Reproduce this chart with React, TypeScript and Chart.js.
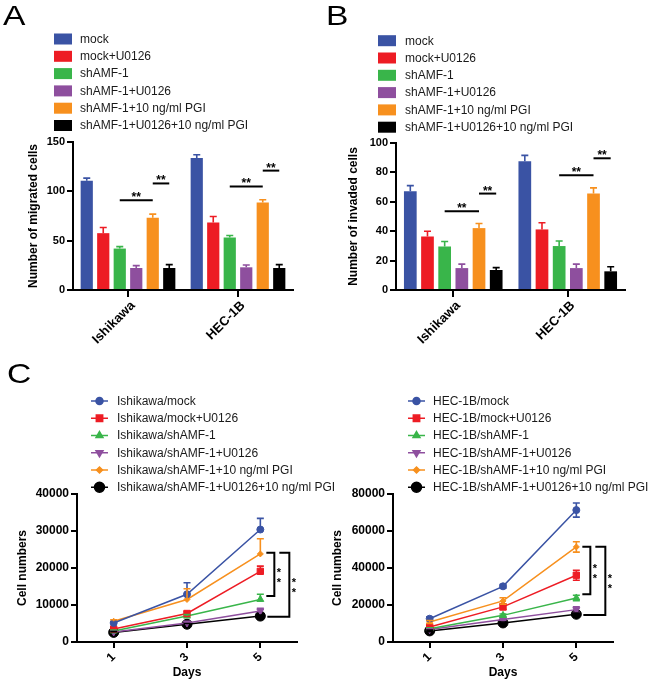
import React, { useEffect, useRef } from 'react';
import { Chart, registerables } from 'chart.js';
import { drawPoint } from 'chart.js/helpers';

Chart.register(...registerables);

const FONT = '"Liberation Sans", Arial, Helvetica, sans-serif';

// ---------- Panels A & B (bar charts) ----------
const cellLines = ['Ishikawa', 'HEC-1B'];
const groupNames = ['mock', 'mock+U0126', 'shAMF-1', 'shAMF-1+U0126', 'shAMF-1+10 ng/ml PGI', 'shAMF-1+U0126+10 ng/ml PGI'];
const groupColors = ['#3A53A4', '#ED1C24', '#39B54A', '#8E4F9E', '#F7901E', '#000000'];

const migratedMean = [[110.7, 133.8], [57.6, 68.4], [42.0, 53.2], [22.3, 23.0], [73.1, 88.7], [22.3, 22.3]];
const migratedErr = [[2.7, 3.3], [5.7, 6.1], [2.0, 2.0], [2.4, 2.4], [3.8, 2.7], [3.4, 3.4]];
const migratedSig = [
  { cat: 0, from: 2, to: 4, value: 91 },
  { cat: 0, from: 4, to: 5, value: 108 },
  { cat: 1, from: 2, to: 4, value: 105 },
  { cat: 1, from: 4, to: 5, value: 121 },
];

const invadedMean = [[67.2, 87.6], [36.4, 41.2], [29.6, 29.9], [14.9, 14.9], [42.1, 65.6], [13.6, 12.7]];
const invadedErr = [[3.8, 4.0], [3.6, 4.5], [3.4, 3.4], [2.7, 2.7], [3.1, 3.9], [1.6, 3.1]];
const invadedSig = [
  { cat: 0, from: 2, to: 4, value: 53.6 },
  { cat: 0, from: 4, to: 5, value: 65.6 },
  { cat: 1, from: 2, to: 4, value: 78 },
  { cat: 1, from: 4, to: 5, value: 89.6 },
];

// ---------- Panel C (growth curves) ----------
const days = [1, 3, 5];
const ishikawaNames = groupNames.map((n) => 'Ishikawa/' + n);
const hecNames = groupNames.map((n) => 'HEC-1B/' + n);
const pointStyles = ['circle', 'rect', 'triangle', 'triangle', 'rectRot', 'circle'];
const pointRadii = [3.5, 4.5, 4, 4, 3, 5];
const pointRotations = [0, 0, 0, 180, 0, 0];

const ishikawaMean = [
  [5150, 12900, 30400],
  [3500, 7700, 19100],
  [3000, 7000, 11500],
  [2700, 5150, 8400],
  [5600, 11500, 23800],
  [2600, 4800, 7000],
];
const ishikawaErr = [
  [300, 3100, 3000],
  [300, 500, 1400],
  [200, 400, 1400],
  [200, 300, 700],
  [400, 2900, 4100],
  [200, 200, 300],
];
const ishikawaBrackets = [
  { top: 24100, bottom: 12400 },
  { top: 24100, bottom: 6850 },
];

const hecMean = [
  [12600, 30100, 71300],
  [8100, 19000, 36100],
  [7200, 14400, 23800],
  [6700, 12100, 17500],
  [10800, 22200, 51400],
  [6000, 10300, 15000],
];
const hecErr = [
  [1000, 1000, 3800],
  [700, 1500, 2700],
  [500, 700, 1500],
  [400, 500, 1500],
  [800, 1700, 2800],
  [400, 500, 600],
];
const hecBrackets = [
  { top: 51500, bottom: 25800 },
  { top: 51500, bottom: 14600 },
];

// ---------- plugins ----------
function columnLegend(id: string, g: any) {
  return {
    id,
    afterDraw(chart: any) {
      const ctx = chart.ctx;
      ctx.save();
      ctx.font = `12px ${FONT}`;
      ctx.textBaseline = 'middle';
      ctx.textAlign = 'left';
      chart.data.datasets.forEach((ds: any, i: number) => {
        const cy = g.y + i * g.rowH;
        if (g.kind === 'box') {
          ctx.fillStyle = ds.backgroundColor;
          ctx.fillRect(g.x, cy - 5.5, 18, 11);
        } else {
          ctx.strokeStyle = ds.borderColor;
          ctx.lineWidth = 1.5;
          ctx.beginPath();
          ctx.moveTo(g.x, cy);
          ctx.lineTo(g.x + 17, cy);
          ctx.stroke();
          ctx.fillStyle = ds.backgroundColor;
          drawPoint(ctx, { pointStyle: ds.pointStyle, radius: ds.pointRadius, rotation: ds.pointRotation, borderWidth: 1 }, g.x + 8.5, cy);
        }
        ctx.fillStyle = '#1a1a1a';
        ctx.fillText(ds.label, g.textX, cy + 0.5);
      });
      ctx.restore();
    },
  };
}

function errorBars(id: string, errs: number[][], both: boolean, cap: number) {
  return {
    id,
    afterDatasetsDraw(chart: any) {
      const ctx = chart.ctx;
      const ys = chart.scales.y;
      ctx.save();
      chart.data.datasets.forEach((ds: any, i: number) => {
        const meta = chart.getDatasetMeta(i);
        ctx.strokeStyle = ds.borderColor || ds.backgroundColor;
        ctx.lineWidth = 1.6;
        meta.data.forEach((el: any, j: number) => {
          const raw = ds.data[j];
          const v = typeof raw === 'number' ? raw : raw.y;
          const e = errs[i][j];
          const yTop = ys.getPixelForValue(v + e);
          const yBot = both ? ys.getPixelForValue(v - e) : el.y;
          ctx.beginPath();
          ctx.moveTo(el.x, yBot);
          ctx.lineTo(el.x, yTop);
          ctx.moveTo(el.x - cap, yTop);
          ctx.lineTo(el.x + cap, yTop);
          if (both) {
            ctx.moveTo(el.x - cap, yBot);
            ctx.lineTo(el.x + cap, yBot);
          }
          ctx.stroke();
        });
      });
      ctx.restore();
    },
  };
}

function barSignificance(id: string, sig: any[]) {
  return {
    id,
    afterDatasetsDraw(chart: any) {
      const ctx = chart.ctx;
      const ys = chart.scales.y;
      ctx.save();
      ctx.strokeStyle = '#000';
      ctx.fillStyle = '#000';
      ctx.lineWidth = 2;
      ctx.font = `bold 12px ${FONT}`;
      ctx.textAlign = 'center';
      ctx.textBaseline = 'alphabetic';
      sig.forEach((s) => {
        const x1 = chart.getDatasetMeta(s.from).data[s.cat].x;
        const x2 = chart.getDatasetMeta(s.to).data[s.cat].x;
        const y = ys.getPixelForValue(s.value);
        ctx.beginPath();
        ctx.moveTo(x1, y);
        ctx.lineTo(x2, y);
        ctx.stroke();
        ctx.fillText('**', (x1 + x2) / 2, y + 1);
      });
      ctx.restore();
    },
  };
}

function lineBrackets(id: string, br: any[], lastDay: number) {
  return {
    id,
    afterDatasetsDraw(chart: any) {
      const ctx = chart.ctx;
      const ys = chart.scales.y;
      const xs = chart.scales.x;
      const x0 = xs.getPixelForValue(lastDay);
      const geo = [
        { topL: 6, botL: 6, v: 14 },
        { topL: 19, botL: 7, v: 29 },
      ];
      ctx.save();
      ctx.strokeStyle = '#000';
      ctx.fillStyle = '#000';
      ctx.lineWidth = 2;
      ctx.font = `bold 11px ${FONT}`;
      ctx.textAlign = 'center';
      ctx.textBaseline = 'alphabetic';
      br.forEach((b, k) => {
        const gg = geo[k];
        const yt = ys.getPixelForValue(b.top);
        const yb = ys.getPixelForValue(b.bottom);
        const xv = x0 + gg.v;
        ctx.beginPath();
        ctx.moveTo(x0 + gg.topL, yt);
        ctx.lineTo(xv, yt);
        ctx.lineTo(xv, yb);
        ctx.lineTo(x0 + gg.botL, yb);
        ctx.stroke();
        const ym = (yt + yb) / 2;
        ctx.fillText('*', xv + 4.5, ym - 5 + 6.3);
        ctx.fillText('*', xv + 4.5, ym + 5 + 6.3);
      });
      ctx.restore();
    },
  };
}

const plainNumber = (v: any) => String(v);
const tickFont = { family: FONT, size: 11, weight: 'bold' as const };
const titleFont = { family: FONT, size: 12, weight: 'bold' as const };

function barConfig(means: number[][], errs: number[][], yMax: number, yStep: number, yTitle: string, sig: any[], g: any) {
  return {
    type: 'bar',
    data: {
      labels: cellLines,
      datasets: groupNames.map((name, i) => ({
        label: name,
        data: means[i],
        backgroundColor: groupColors[i],
        borderColor: groupColors[i],
        borderWidth: 0,
        barPercentage: 0.74,
        categoryPercentage: 0.9,
      })),
    },
    options: {
      responsive: false,
      animation: false,
      devicePixelRatio: 1,
      layout: { padding: { left: 0, top: g.top, right: g.right, bottom: 0 } },
      plugins: { legend: { display: false }, tooltip: { enabled: false } },
      scales: {
        x: {
          grid: { offset: false, drawOnChartArea: false, color: '#000', lineWidth: 2, tickLength: 7 },
          border: { color: '#000', width: 2 },
          ticks: { color: '#000', font: { ...tickFont, size: 13 }, minRotation: 45, maxRotation: 45, padding: 1, labelOffset: 5 },
          afterFit: (s: any) => { s.height = g.xH; },
        },
        y: {
          min: 0,
          max: yMax,
          grid: { drawOnChartArea: false, color: '#000', lineWidth: 2, tickLength: 6 },
          border: { color: '#000', width: 2 },
          ticks: { stepSize: yStep, color: '#000', font: tickFont, padding: 2, callback: plainNumber },
          title: { display: true, text: yTitle, color: '#000', font: titleFont, padding: { top: g.titlePad, bottom: 0 } },
          afterFit: (s: any) => { s.width = g.yW; },
        },
      },
    },
    plugins: [
      columnLegend('colLegend', { kind: 'box', x: g.legX, y: g.legY, rowH: 17.3, textX: g.legTextX }),
      errorBars('errBars', errs, false, 3.5),
      barSignificance('sigBars', sig),
    ],
  };
}

function lineConfig(names: string[], means: number[][], errs: number[][], yMax: number, yStep: number, brackets: any[], both: boolean, g: any) {
  return {
    type: 'line',
    data: {
      datasets: names.map((name, i) => ({
        label: name,
        data: days.map((d, j) => ({ x: d, y: means[i][j] })),
        borderColor: groupColors[i],
        backgroundColor: groupColors[i],
        borderWidth: 1.5,
        pointStyle: pointStyles[i],
        pointRadius: pointRadii[i],
        pointRotation: pointRotations[i],
        pointBorderWidth: 1,
        tension: 0,
      })),
    },
    options: {
      responsive: false,
      animation: false,
      devicePixelRatio: 1,
      layout: { padding: { left: 0, top: g.top, right: g.right, bottom: 0 } },
      plugins: { legend: { display: false }, tooltip: { enabled: false } },
      scales: {
        x: {
          type: 'linear',
          min: 0,
          max: 6,
          afterBuildTicks: (s: any) => { s.ticks = days.map((v) => ({ value: v })); },
          grid: { drawOnChartArea: false, color: '#000', lineWidth: 2, tickLength: 6 },
          border: { color: '#000', width: 2 },
          ticks: { color: '#000', font: { ...tickFont, size: 12 }, minRotation: 45, maxRotation: 45, padding: 2, autoSkip: false, callback: plainNumber },
          title: { display: true, text: 'Days', color: '#000', font: titleFont, padding: { top: 0, bottom: 7 } },
          afterFit: (s: any) => { s.height = g.xH; },
        },
        y: {
          min: 0,
          max: yMax,
          grid: { drawOnChartArea: false, color: '#000', lineWidth: 2, tickLength: 6 },
          border: { color: '#000', width: 2 },
          ticks: { stepSize: yStep, color: '#000', font: { ...tickFont, size: 12 }, padding: 2, callback: plainNumber },
          title: { display: true, text: 'Cell numbers', color: '#000', font: titleFont, padding: { top: g.titlePad, bottom: 0 } },
          afterFit: (s: any) => { s.width = g.yW; },
        },
      },
    },
    plugins: [
      columnLegend('colLegend', { kind: 'line', x: g.legX, y: g.legY, rowH: 17.25, textX: g.legTextX }),
      errorBars('errBars', errs, both, 3.5),
      lineBrackets('brackets', brackets, days[days.length - 1]),
    ],
  };
}

function ChartBox({ left, top, width, height, make }: any) {
  const ref = useRef<HTMLCanvasElement>(null);
  useEffect(() => {
    const chart = new Chart(ref.current as HTMLCanvasElement, make());
    return () => chart.destroy();
  }, []);
  return (
    <div style={{ position: 'absolute', left, top, width, height }}>
      <canvas ref={ref} width={width} height={height} style={{ display: 'block', width, height }} />
    </div>
  );
}

const letterStyle: React.CSSProperties = {
  position: 'absolute',
  fontFamily: FONT,
  fontSize: 28,
  lineHeight: '28px',
  color: '#000',
  transform: 'scaleX(1.2)',
  transformOrigin: 'left top',
};

export default function App() {
  return (
    <div style={{ position: 'absolute', left: 0, top: 0, width: 650, height: 687, background: '#fff', overflow: 'hidden' }}>
      <ChartBox
        left={0}
        top={0}
        width={320}
        height={360}
        make={() =>
          barConfig(migratedMean, migratedErr, 150, 50, 'Number of migrated cells', migratedSig, {
            top: 142, right: 27, xH: 70, yW: 73, titlePad: 26, legX: 54, legY: 39, legTextX: 80,
          })
        }
      />
      <ChartBox
        left={320}
        top={0}
        width={330}
        height={360}
        make={() =>
          barConfig(invadedMean, invadedErr, 100, 20, 'Number of invaded cells', invadedSig, {
            top: 143, right: 25, xH: 70, yW: 76, titlePad: 26, legX: 58, legY: 40.7, legTextX: 85,
          })
        }
      />
      <ChartBox
        left={0}
        top={340}
        width={345}
        height={347}
        make={() =>
          lineConfig(ishikawaNames, ishikawaMean, ishikawaErr, 40000, 10000, ishikawaBrackets, false, {
            top: 154, right: 48, xH: 45, yW: 77, titlePad: 15, legX: 91, legY: 61, legTextX: 117,
          })
        }
      />
      <ChartBox
        left={325}
        top={340}
        width={325}
        height={347}
        make={() =>
          lineConfig(hecNames, hecMean, hecErr, 80000, 20000, hecBrackets, true, {
            top: 154, right: 37, xH: 45, yW: 68, titlePad: 5, legX: 83, legY: 61, legTextX: 108,
          })
        }
      />
      <div style={{ ...letterStyle, left: 3, top: 2 }}>A</div>
      <div style={{ ...letterStyle, left: 326, top: 2 }}>B</div>
      <div style={{ ...letterStyle, left: 7, top: 360 }}>C</div>
    </div>
  );
}
